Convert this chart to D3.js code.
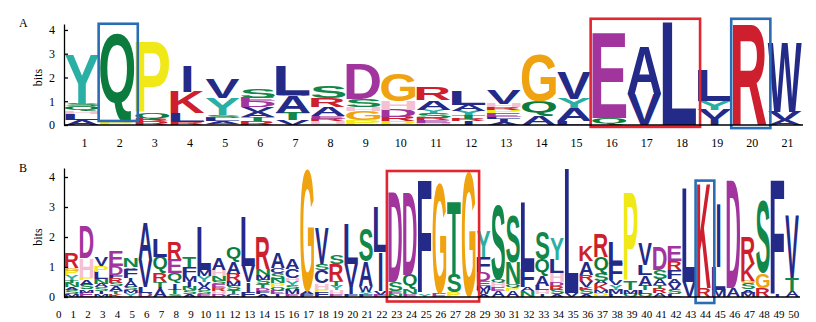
<!DOCTYPE html>
<meta charset="utf-8">
<style>
body { margin: 0; background: #fff; }
svg { display: block; }
.axis text { font-family: "Liberation Serif", "Times New Roman", serif; fill: #000; }
.axis path, .axis line { stroke: #000; stroke-width: 1.3px; }
.lbl { font-family: "Liberation Serif", "Times New Roman", serif; font-size: 12px; }
</style>
<svg width="816" height="322"></svg>
<script src="https://cdn.jsdelivr.net/npm/d3@7/dist/d3.min.js"></script>
<script>

// panel A: positions 1..21, each stack listed bottom -> top as [letter, bits]
var posA = d3.range(1, 22);
var stacksA = [
  [["A",.2],["L",.25],["H",.12],["Q",.22],["S",.1],["Y",2.05]],
  [["P",.1],["Q",3.75]],
  [["R",.15],["K",.1],["Q",.28],["P",2.93]],
  [["R",.12],["L",.38],["K",.9],["I",1.1]],
  [["H",.05],["A",.1],["L",.15],["S",.12],["Y",.7],["V",.8]],
  [["R",.18],["T",.15],["A",.22],["V",.2],["D",.25],["E",.15],["S",.4]],
  [["V",.2],["T",.3],["A",.7],["S",.08],["L",1.25]],
  [["H",.15],["R",.12],["E",.1],["A",.4],["R",.35],["S",.5]],
  [["P",.2],["G",.4],["H",.15],["S",.35],["D",1.45]],
  [["P",.15],["R",.2],["D",.3],["H",.35],["G",1.15]],
  [["H",.1],["E",.1],["R",.1],["S",.2],["Y",.15],["A",.4],["R",.55]],
  [["I",.15],["R",.1],["T",.15],["Y",.2],["A",.25],["L",.6]],
  [["A",.1],["I",.15],["L",.1],["E",.15],["P",.15],["R",.1],["H",.15],["V",.6]],
  [["A",.35],["Q",.65],["G",2.0]],
  [["L",.15],["A",.55],["Y",.4],["V",1.1]],
  [["Q",.3],["E",3.58]],
  [["V",1.3],["A",2.0]],
  [["L",4.3]],
  [["I",.25],["V",.4],["Y",.35],["L",1.3]],
  [["R",4.2]],
  [["A",.2],["V",.35],["W",2.9]]
];

// panel B: positions 1..50
var posB = d3.range(0, 51);
var stacksB = [
  [["M",.1],["S",.12],["A",.1],["N",.15],["T",.1],["Y",.15],["P",.15],["G",.1],["R",.5]],
  [["E",.15],["M",.1],["S",.15],["A",.15],["P",.1],["H",.65],["D",1.05]],
  [["M",.1],["I",.1],["S",.12],["A",.12],["N",.15],["L",.25],["P",.2],["V",.3]],
  [["K",.1],["T",.1],["A",.15],["S",.12],["R",.15],["F",.1],["D",.3],["E",.5]],
  [["Y",.12],["M",.1],["S",.12],["A",.2],["I",.1],["F",.3],["V",.05],["N",.3]],
  [["D",.15],["L",.2],["V",.9],["A",1.27]],
  [["A",.25],["I",.1],["T",.15],["R",.3],["Q",.55],["L",.6]],
  [["S",.1],["T",.15],["I",.2],["Q",.35],["E",.45],["R",.6]],
  [["A",.1],["S",.12],["N",.12],["I",.15],["M",.2],["F",.3],["T",.35]],
  [["E",.1],["S",.12],["A",.12],["V",.15],["Y",.2],["M",.2],["L",1.45]],
  [["D",.1],["H",.1],["R",.1],["E",.12],["S",.13],["N",.15],["H",.2],["A",.4]],
  [["C",.1],["T",.12],["S",.15],["M",.15],["R",.25],["A",.4],["Q",.5]],
  [["F",.15],["I",.35],["V",.55],["L",1.6]],
  [["A",.1],["F",.1],["D",.1],["T",.12],["S",.15],["M",.15],["N",.2],["R",1.05]],
  [["I",.1],["E",.12],["Q",.12],["P",.12],["N",.15],["S",.2],["C",.15],["A",.5]],
  [["E",.1],["M",.15],["S",.12],["Y",.15],["H",.1],["C",.3],["A",.35]],
  [["F",.1],["A",.08],["G",4.1]],
  [["F",.15],["P",.1],["H",.2],["C",.45],["S",.2],["V",1.2]],
  [["E",.1],["H",.12],["Y",.15],["T",.18],["R",.55],["S",.3]],
  [["F",.1],["I",.25],["V",.75],["L",1.3]],
  [["F",.08],["Y",.1],["W",.2],["A",.8],["S",1.1]],
  [["E",.08],["V",.12],["I",1.3],["L",1.5]],
  [["N",.1],["E",.1],["S",.3],["D",3.0]],
  [["E",.1],["N",.15],["Q",.5],["D",2.75]],
  [["Y",.1],["F",3.75]],
  [["E",.12],["G",3.7]],
  [["P",.15],["S",.6],["T",2.48]],
  [["G",4.18]],
  [["A",.1],["W",.15],["M",.12],["E",.15],["D",.3],["F",.5],["Y",.85]],
  [["A",.2],["E",.12],["H",.15],["Q",.1],["S",2.5]],
  [["A",.2],["P",.1],["Q",.12],["N",.72],["S",1.6]],
  [["N",.2],["A",.12],["F",.6],["L",2.2]],
  [["I",.1],["H",.12],["L",.15],["A",.35],["Q",.55],["S",.9]],
  [["A",.1],["S",.15],["R",.12],["D",.12],["H",.3],["L",.45],["Y",.7]],
  [["V",.12],["L",4.15]],
  [["A",.1],["S",.15],["K",.1],["V",.2],["R",.2],["A",.45],["K",.5]],
  [["P",.12],["M",.1],["K",.2],["A",.12],["S",.25],["Q",.55],["R",.75]],
  [["L",.1],["M",.15],["Y",.15],["V",.15],["F",.55],["L",.7]],
  [["Q",.1],["M",.12],["T",.3],["P",2.95]],
  [["Q",.1],["L",.12],["T",.15],["A",.35],["L",.35],["V",.7]],
  [["A",.12],["R",.15],["T",.12],["A",.2],["S",.3],["D",.75]],
  [["L",.1],["S",.15],["V",.2],["A",.15],["F",.3],["R",.3],["E",.5]],
  [["V",.5],["L",3.1]],
  [["R",.3],["K",3.5]],
  [["M",.25],["L",.75],["I",2.12]],
  [["A",.3],["D",3.58]],
  [["M",.15],["A",.1],["S",.2],["G",.1],["K",.55],["R",.9]],
  [["R",.3],["G",.5],["S",2.4]],
  [["I",.08],["F",3.8]],
  [["A",.2],["T",.45],["V",2.08]]
];

var bitTicks = [0, 1, 2, 3, 4];

// highlighted regions: [first pos, last pos, top bits, bottom bits, kind]
var boxesA = [[2, 2, 4.26, 0.17, "blue"], [16, 18, 4.47, -0.08, "red"], [20, 20, 4.47, -0.13, "blue"]];
var boxesB = [[23, 28, 4.2, -0.15, "red"], [44, 44, 3.88, -0.2, "blue"]];

var colors = {
  Y: "#2aafa5", Q: "#0c7c3e", S: "#11884a", T: "#11884a", N: "#11884a",
  P: "#f1e817", G: "#f0a310", K: "#cd1f2e", R: "#cd1f2e",
  D: "#a2349d", E: "#a2349d", H: "#f5c0d2"
};
var navy = "#242a88";
var boxColor = { red: "#e2262f", blue: "#2a6db4" };

var svg = d3.select("svg");
var font = "bold 100px 'Liberation Sans'";
var ctx = document.createElement("canvas").getContext("2d");
ctx.font = font;
var metricCache = {};
function glyph(ch) {
  if (!metricCache[ch]) {
    var m = ctx.measureText(ch);
    metricCache[ch] = { l: m.actualBoundingBoxLeft, r: m.actualBoundingBoxRight,
                        a: m.actualBoundingBoxAscent, d: m.actualBoundingBoxDescent };
  }
  return metricCache[ch];
}

function drawPanel(opt) {
  var g = svg.append("g");
  var x = opt.x, y = opt.y;
  var cw = x(1.5) - x(0.5);

  // letters
  opt.stacks.forEach(function(stack, i) {
    var p = i + 1, base = 0;
    stack.forEach(function(s) {
      var ch = s[0], h = s[1];
      var top = y(base + h), bot = y(base);
      base += h;
      var m = glyph(ch);
      // "I" keeps its narrow shape instead of filling the column
      var w = ch === "I" ? cw * 0.24 : cw - 1;
      var x0 = x(p) - w / 2;
      var sx = w / (m.l + m.r), sy = (bot - top) / (m.a + m.d);
      g.append("text")
        .attr("x", 0).attr("y", 0)
        .style("font", font)
        .attr("fill", colors[ch] || navy)
        .attr("transform", "translate(" + x0 + "," + top + ") scale(" + sx + "," + sy + ") translate(" + m.l + "," + m.a + ")")
        .text(ch);
    });
  });

  // boxes
  opt.boxes.forEach(function(b) {
    g.append("rect")
      .attr("x", x(b[0] - 0.5) - 1)
      .attr("y", y(b[2]))
      .attr("width", x(b[1] + 0.5) - x(b[0] - 0.5) + 4)
      .attr("height", y(b[3]) - y(b[2]))
      .attr("fill", "none")
      .attr("stroke", boxColor[b[4]])
      .attr("stroke-width", 2.6);
  });

  // axes
  var ya = g.append("g").attr("class", "axis")
      .attr("transform", "translate(" + opt.left + ",0)")
      .call(d3.axisLeft(y).tickValues(bitTicks).tickSizeInner(-4).tickSizeOuter(0).tickPadding(9).tickFormat(d3.format("d")));
  ya.selectAll("text").style("font-size", "12px");

  var xa = g.append("g").attr("class", "axis")
      .attr("transform", "translate(0," + y(0) + ")")
      .call(d3.axisBottom(x).tickValues(opt.pos).tickSize(0).tickPadding(13).tickFormat(d3.format("d")));
  xa.select(".domain").attr("d", "M" + opt.left + ",0H" + opt.right);
  xa.selectAll("text").style("font-size", opt.labelSize).attr("dx", opt.labelShift);

  svg.append("text").attr("class", "lbl")
    .attr("transform", "translate(" + (opt.left - 22) + "," + y(2) + ") rotate(-90)")
    .attr("text-anchor", "middle")
    .text("bits");
  svg.append("text").attr("class", "lbl")
    .attr("x", 19).attr("y", opt.tag[1])
    .text(opt.tag[0]);
}

drawPanel({
  stacks: stacksA, pos: posA, boxes: boxesA,
  x: d3.scaleLinear().domain([0.5, 21.5]).range([64.5, 802.5]),
  y: d3.scaleLinear().domain([0, 4.25]).range([125, 24]),
  left: 64, right: 803, labelSize: "12px", labelShift: 2, tag: ["A", 27]
});

drawPanel({
  stacks: stacksB, pos: posB, boxes: boxesB,
  x: d3.scaleLinear().domain([0.5, 50.5]).range([64.5, 799.5]),
  y: d3.scaleLinear().domain([0, 4.3]).range([297, 168]),
  left: 64, right: 800, labelSize: "11px", labelShift: 1, tag: ["B", 172]
});
</script>
